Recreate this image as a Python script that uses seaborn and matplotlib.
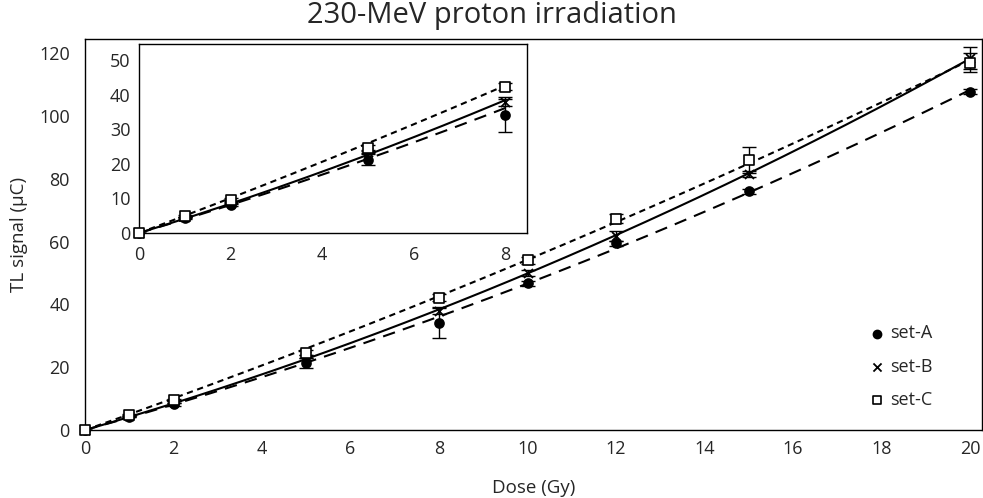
import numpy as np
import pandas as pd
import matplotlib
matplotlib.use("Agg")
import matplotlib.pyplot as plt
import seaborn as sns
from matplotlib.ticker import MultipleLocator

# ---- data ----
dose = [0, 1, 2, 5, 8, 10, 12, 15, 20]
set_a = [0, 4.3, 8.2, 21.2, 34.2, 46.7, 59.5, 76.0, 107.8]
set_b = [0, 4.5, 8.8, 23.5, 37.8, 50.1, 61.8, 81.5, 118.5]
set_c = [0, 4.8, 9.6, 24.6, 42.2, 54.0, 67.3, 86.0, 117.0]
err_a = [0, 0.3, 0.4, 1.6, 5.0, 0.8, 0.8, 0.8, 0.8]
err_b = [0, 0.2, 0.3, 0.5, 1.0, 1.0, 1.5, 1.0, 3.5]
err_c = [0, 0.3, 0.4, 0.8, 1.0, 1.0, 1.5, 4.0, 3.0]
series_names = ["set-A", "set-B", "set-C"]
main_xticks = [0, 2, 4, 6, 8, 10, 12, 14, 16, 18, 20]
main_yticks = [0, 20, 40, 60, 80, 100, 120]
inset_xticks = [0, 2, 4, 6, 8]
inset_yticks = [0, 10, 20, 30, 40, 50]
inset_max_dose = 8

sns.set_style("white")
plt.rcParams["font.family"] = ["Open Sans", "DejaVu Sans"]
TXT = "#262626"

values = {"set-A": set_a, "set-B": set_b, "set-C": set_c}
errors = {"set-A": err_a, "set-B": err_b, "set-C": err_c}
df = pd.concat([pd.DataFrame({"dose": dose, "signal": values[n], "err": errors[n], "set": n})
                for n in series_names], ignore_index=True)

styles = {
    "set-A": dict(marker="o", s=42, facecolor="black", edgecolor="black", ls=(0, (6, 4))),
    "set-B": dict(marker="x", s=42, facecolor="black", edgecolor="black", ls="-"),
    "set-C": dict(marker="s", s=48, facecolor="white", edgecolor="black", ls=(0, (3, 2.2))),
}

fig = plt.figure(figsize=(9.83, 4.98), dpi=100)
ax = fig.add_axes([0.0865, 0.1365, 0.9125, 0.785])
axi = fig.add_axes([0.1414, 0.5321, 0.3947, 0.3795])


def fit_through_origin(x, y):
    x = np.asarray(x, float)
    A = np.column_stack([x, x ** 2])
    coef, *_ = np.linalg.lstsq(A, np.asarray(y, float), rcond=None)
    return coef


def draw(a, xmax, lw_marker=1.2):
    for n in series_names:
        d = df[(df["set"] == n) & (df["dose"] <= xmax)]
        full = df[df["set"] == n]
        c1, c2 = fit_through_origin(full["dose"], full["signal"])
        xs = np.linspace(0, xmax, 200)
        fit = pd.DataFrame({"dose": xs, "signal": c1 * xs + c2 * xs ** 2})
        st = styles[n]
        sns.lineplot(data=fit, x="dose", y="signal", ax=a, color="black",
                     linewidth=1.5, linestyle=st["ls"], legend=False)
        a.errorbar(d["dose"], d["signal"], yerr=d["err"], fmt="none",
                   ecolor="black", elinewidth=1.0, capsize=5, capthick=1.0, zorder=3)
        if st["marker"] == "x":
            sns.scatterplot(data=d, x="dose", y="signal", ax=a, marker="x",
                            s=st["s"], color="black", linewidth=1.3, zorder=4,
                            label=n if a is ax else None, legend=False, clip_on=False)
        else:
            sns.scatterplot(data=d, x="dose", y="signal", ax=a, marker=st["marker"],
                            s=st["s"], facecolor=st["facecolor"], edgecolor=st["edgecolor"],
                            linewidth=lw_marker, zorder=4, clip_on=False,
                            label=n if a is ax else None, legend=False)


draw(ax, max(dose))
draw(axi, inset_max_dose)

for a in (ax, axi):
    for sp in a.spines.values():
        sp.set_color("black")
        sp.set_linewidth(1.0)
        sp.set_visible(True)
    a.tick_params(which="both", direction="in", length=5, width=1.0, colors="black",
                  labelsize=13, labelcolor=TXT)
    a.set_xlabel("")
    a.set_ylabel("")
    a.xaxis.set_minor_locator(MultipleLocator(1))

ax.set_xlim(0, 20.27)
ax.set_ylim(0, 124.5)
ax.set_xticks(main_xticks)
ax.set_yticks(main_yticks)
ax.yaxis.set_minor_locator(MultipleLocator(10))
ax.tick_params(axis="x", pad=7)
ax.tick_params(axis="y", pad=11)

axi.set_xlim(0, 8.47)
axi.set_ylim(0, 54.6)
axi.set_xticks(inset_xticks)
axi.set_yticks(inset_yticks)
axi.yaxis.set_minor_locator(MultipleLocator(5))
axi.tick_params(axis="x", pad=9)
axi.tick_params(axis="y", pad=6)

ax.set_xlabel("Dose (Gy)", fontsize=13.5, color=TXT, labelpad=15)
ax.set_ylabel("TL signal (μC)", fontsize=13.5, color=TXT, labelpad=8)
fig.text(0.5, 1 - 15 / 498, "230-MeV proton irradiation", fontsize=21, color=TXT,
         ha="center", va="center")

leg = ax.legend(loc="lower right", bbox_to_anchor=(0.963, 0.012), frameon=False,
                fontsize=13, handletextpad=0.1, handlelength=1.2, labelspacing=0.85,
                markerscale=0.9)
for t in leg.get_texts():
    t.set_color(TXT)

fig.savefig("out.png", dpi=100)
